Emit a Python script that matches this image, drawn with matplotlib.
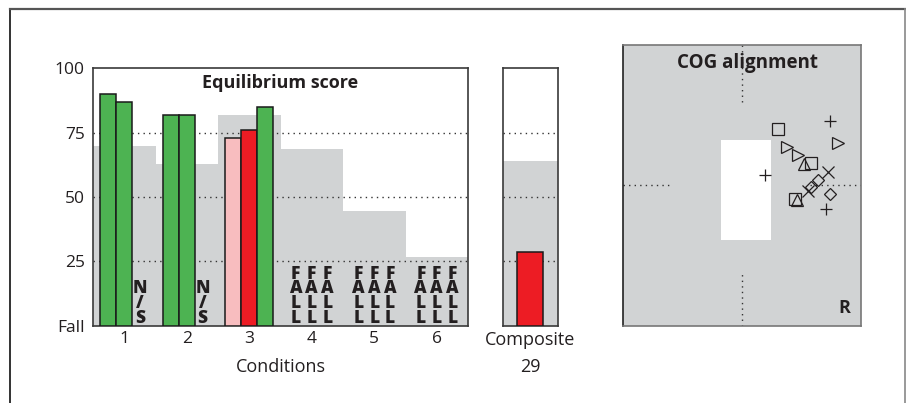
import numpy as np
import matplotlib.pyplot as plt
from matplotlib.lines import Line2D

plt.rcParams['font.family'] = ['Open Sans', 'DejaVu Sans']

# data
conditions = [1, 2, 3, 4, 5, 6]
norm_scores = [70, 63, 82, 68.5, 44.5, 26.5]   # gray normative band
trial_scores = [[90, 87, None], [82, 82, None], [73, 76, 85], [None] * 3, [None] * 3, [None] * 3]
trial_colors = [['#4db352'] * 3, ['#4db352'] * 3, ['#f8bdbf', '#ed1c24', '#4db352'],
                [None] * 3, [None] * 3, [None] * 3]
trial_marks = [[None, None, 'N/S'], [None, None, 'N/S'], [None] * 3,
               ['FALL'] * 3, ['FALL'] * 3, ['FALL'] * 3]
composite_norm = 64
composite_score = 28.5
composite_label = 29

cog_x = {'+': [4.43, 1.16, 4.21], 's': [1.79, 3.48, 2.66], '>': [4.82, 2.24, 2.83],
         '^': [3.13, 2.75], 'x': [4.31, 3.33], 'D': [3.84, 3.47, 4.43]}
cog_y = {'+': [3.2, 0.51, -1.18], 's': [2.79, 1.09, -0.70], '>': [2.09, 1.92, 1.51],
         '^': [1.06, -0.73], 'x': [0.68, -0.28], 'D': [0.26, -0.07, -0.43]}

gray = '#d1d3d4'
spine = '#3a3a3a'
ink = '#231f20'
W, H = 906, 403
fig = plt.figure(figsize=(W / 100, H / 100), dpi=100)

# outer frame
fig.add_artist(Line2D([10 / W, 10 / W], [0, 1 - 9 / H], color='#222222', lw=1.3))
fig.add_artist(Line2D([10 / W, 905 / W], [1 - 9 / H, 1 - 9 / H], color='#555555', lw=1.6))
fig.add_artist(Line2D([905 / W, 905 / W], [0, 1 - 9 / H], color='#888888', lw=1.2))

# ---------------- equilibrium score
ax = fig.add_axes([93 / W, 1 - 325.7 / H, 375 / W, 257.4 / H])
for c, n in zip(conditions, norm_scores):
    ax.bar(c, n, width=1.0, color=gray, zorder=1, linewidth=0)
for yv in [25, 50, 75]:
    ax.axhline(yv, color='#333333', ls=(0, (1, 3)), lw=1.0, zorder=2)
offs = [-0.255, 0, 0.255]
for c, vals, cols, marks in zip(conditions, trial_scores, trial_colors, trial_marks):
    for o, v, col, m in zip(offs, vals, cols, marks):
        if v is not None:
            ax.bar(c + o, v, width=0.255, color=col, edgecolor='#1a1a1a', lw=1.1, zorder=3)
        if m is not None:
            ax.text(c + o, 1.2, '\n'.join(m), ha='center', va='baseline',
                    fontsize=12.5, fontweight='heavy', color=ink, linespacing=0.82, zorder=4)
ax.text(3.5, 94.3, 'Equilibrium score', ha='center', va='center', fontsize=13, fontweight='bold',
        color=ink)
ax.set_xlim(0.5, 6.5)
ax.set_ylim(0, 100)
ax.set_xticks(conditions)
ax.set_yticks([0, 25, 50, 75, 100])
ax.set_yticklabels(['Fall', '25', '50', '75', '100'])
ax.tick_params(length=0, labelsize=12.5, colors=ink)
ax.tick_params(axis='y', pad=6)
ax.tick_params(axis='x', pad=4)
ax.set_xlabel('Conditions', fontsize=13, color=ink, labelpad=8)
for s in ax.spines.values():
    s.set_color(spine)
    s.set_linewidth(1.2)

# ---------------- composite
axc = fig.add_axes([502.5 / W, 1 - 325.7 / H, 55 / W, 257.4 / H])
axc.bar(0, composite_norm, width=2, color=gray, linewidth=0, zorder=1)
for yv in [25, 50, 75]:
    axc.axhline(yv, color='#333333', ls=(0, (1, 3)), lw=1.0, zorder=2)
axc.bar(0, composite_score, width=0.95, color='#ed1c24', edgecolor='#1a1a1a', lw=1.1, zorder=3)
axc.set_xlim(-1, 1)
axc.set_ylim(0, 100)
axc.set_yticks([])
axc.set_xticks([0])
axc.set_xticklabels(['Composite'])
axc.tick_params(length=0, labelsize=13, colors=ink, pad=4)
axc.set_xlabel(str(composite_label), fontsize=13, color=ink, labelpad=6)
for s in axc.spines.values():
    s.set_color(spine)
    s.set_linewidth(1.2)

# ---------------- COG alignment
axg = fig.add_axes([623.3 / W, 1 - 325.7 / H, 238 / W, 281 / H])
axg.set_facecolor(gray)
axg.add_patch(plt.Rectangle((-1.08, -2.72), 2.53, 4.97, color='white', lw=0, zorder=1))
dot = dict(color='#333333', ls=(0, (1, 3)), lw=1.0, zorder=2)
axg.plot([0, 0], [4.16, 7], **dot)
axg.plot([0, 0], [-7, -4.36], **dot)
axg.plot([-6, -3.6], [0, 0], **dot)
axg.plot([3.4, 6], [0, 0], **dot)
for mk in cog_x:
    sz = 9 if mk in ('+', 'x') else 8.5
    if mk == 'D':
        sz = 6.5
    axg.plot(cog_x[mk], cog_y[mk], ls='none', marker=mk, ms=sz, mfc='none', mec=ink,
             mew=0.9, zorder=3)
axg.text(0.26, 6.07, 'COG alignment', ha='center', va='center', fontsize=13.5, fontweight='bold',
         color=ink)
axg.text(5.14, -6.1, 'R', ha='center', va='center', fontsize=13, fontweight='bold', color=ink)
axg.set_xlim(-6, 6)
axg.set_ylim(-7, 7)
axg.set_xticks([])
axg.set_yticks([])
for s in axg.spines.values():
    s.set_color('#777777')
    s.set_linewidth(1.2)
axg.spines['left'].set_color('#222222')

fig.savefig('out.png', dpi=100)
